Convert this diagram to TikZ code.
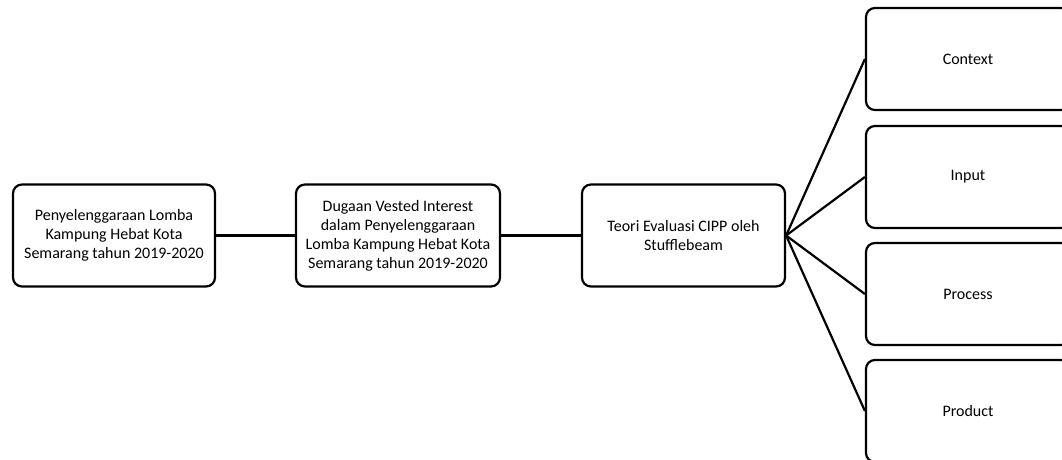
\documentclass[tikz,border=0pt]{standalone}
\usepackage{fontspec}
\setmainfont{Carlito}
\begin{document}
\begin{tikzpicture}[x=1pt,y=-1pt,
  box/.style={draw=black, line width=2.2pt, rounded corners=9pt, fill=white,
    minimum height=102pt, inner sep=2pt, align=center,
    font=\fontsize{16}{19}\selectfont},
  link/.style={draw=black, line width=2.2pt}]
\useasboundingbox (0,0) rectangle (1062,460);
\clip (0,0) rectangle (1062,460);
\node[box, minimum width=202pt] (b1) at (114,235.5)
  {Penyelenggaraan Lomba\\Kampung Hebat Kota\\Semarang tahun 2019-2020};
\node[box, minimum width=204pt] (b2) at (398,235.5)
  {Dugaan Vested Interest\\dalam Penyelenggaraan\\Lomba Kampung Hebat Kota\\Semarang tahun 2019-2020};
\node[box, minimum width=203pt] (b3) at (683.5,235.5)
  {Teori Evaluasi CIPP oleh\\Stufflebeam};
\node[box, minimum width=204pt] (ctx) at (968,59) {Context};
\node[box, minimum width=204pt] (inp) at (968,177) {Input};
\node[box, minimum width=204pt] (pro) at (968,294) {Process};
\node[box, minimum width=204pt] (prd) at (968,411) {Product};
\draw[link] (b1.east) -- (b2.west);
\draw[link] (b2.east) -- (b3.west);
\draw[link] (b3.east) -- (ctx.west);
\draw[link] (b3.east) -- (inp.west);
\draw[link] (b3.east) -- (pro.west);
\draw[link] (b3.east) -- (prd.west);
\end{tikzpicture}
\end{document}
